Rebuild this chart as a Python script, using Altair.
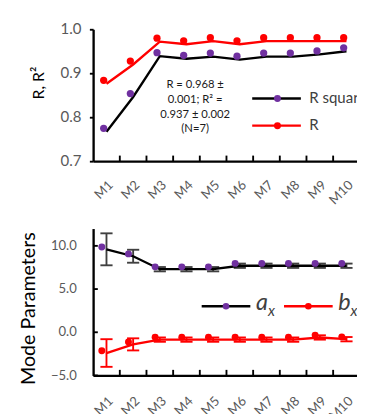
import altair as alt
import pandas as pd

# ---------------- data ----------------
cats = ["M1", "M2", "M3", "M4", "M5", "M6", "M7", "M8", "M9", "M10"]
r_vals = [0.876, 0.920, 0.972, 0.966, 0.973, 0.966, 0.973, 0.973, 0.973, 0.973]
r2_vals = [0.767, 0.846, 0.939, 0.933, 0.938, 0.931, 0.938, 0.938, 0.943, 0.950]
ax_mean = [9.6, 8.8, 7.3, 7.3, 7.3, 7.7, 7.7, 7.7, 7.7, 7.7]
ax_err = [1.85, 0.75, 0.25, 0.25, 0.25, 0.25, 0.25, 0.25, 0.25, 0.25]
bx_mean = [-2.4, -1.4, -0.85, -0.85, -0.85, -0.85, -0.85, -0.85, -0.6, -0.8]
bx_err = [1.6, 0.7, 0.25, 0.25, 0.25, 0.25, 0.25, 0.25, 0.25, 0.25]
top_ticks = [0.7, 0.8, 0.9, 1.0]
bottom_ticks = [-5.0, 0.0, 5.0, 10.0]
annotation = ["R = 0.968 \u00b1", "0.001; R\u00b2 =", "0.937 \u00b1 0.002", "(N=7)"]

FONT = "Lato"
W = 285
H1 = 141
H2 = 157
PURPLE = "#7030A0"
RED = "#FF0000"
GRAY = "#595959"

xscale = alt.Scale(type="band", domain=cats, paddingInner=0, paddingOuter=0)


def make_xaxis(pad):
    return alt.Axis(title=None, labelAngle=-45, labelFontSize=14, labelColor=GRAY,
                    ticks=False, tickSize=0, labelPadding=pad, domainColor="black",
                    domainWidth=2.5, grid=False)


xaxis_top = make_xaxis(18)
xaxis_bot = make_xaxis(20)


def Xt(**kw):
    return alt.X("model:N", sort=cats, scale=xscale, axis=xaxis_top, **kw)


def Xb(**kw):
    return alt.X("model:N", sort=cats, scale=xscale, axis=xaxis_bot, **kw)


# ---------------- top panel ----------------
df_top = pd.DataFrame({
    "model": cats * 2,
    "value": r_vals + r2_vals,
    "series": ["R"] * len(cats) + ["R square"] * len(cats),
})
yscale_top = alt.Scale(domain=[0.7, 1.0], nice=False, zero=False)
yaxis_top = alt.Axis(values=top_ticks, format=".1f", title="R, R\u00b2", titleX=-58, titleY=57,
                     titleBaseline="middle", titleFontSize=17, titleFontWeight="normal",
                     titleColor="black", labelFontSize=16, labelColor=GRAY, tickSize=4,
                     tickWidth=2, tickColor="black", domainColor="black", domainWidth=2.5,
                     grid=False, labelPadding=9)
Ytop = alt.Y("value:Q", scale=yscale_top, axis=yaxis_top)

base_top = alt.Chart(df_top)
line_top = base_top.mark_line(strokeWidth=2.5).encode(
    x=Xt(), y=Ytop,
    stroke=alt.Stroke("series:N", scale=alt.Scale(domain=["R", "R square"], range=[RED, "black"]), legend=None),
)
pts_top = base_top.mark_circle(size=60, opacity=1, xOffset=-3, yOffset=-3.7).encode(
    x=Xt(), y=Ytop,
    fill=alt.Fill("series:N", scale=alt.Scale(domain=["R", "R square"], range=[RED, PURPLE]), legend=None),
)
ticks_top = alt.Chart(pd.DataFrame({"model": cats})).mark_rule(strokeWidth=2, color="black").encode(
    x=Xt(bandPosition=1), y=alt.value(H1 - 6), y2=alt.value(H1)
)
annot = alt.Chart(pd.DataFrame({"a": [0]})).mark_text(
    font=FONT, fontSize=12, lineHeight=15.7, align="center", baseline="middle", color="#1a1a1a"
).encode(x=alt.value(109), y=alt.value(59), text=alt.value(annotation))

leg_top = []
for name, ly, lc, dc in [("R square", 74, "black", PURPLE), ("R", 103, RED, RED)]:
    one = alt.Chart(pd.DataFrame({"s": [name]}))
    leg_top.append(one.mark_rule(strokeWidth=2.5, color=lc).encode(
        x=alt.value(170), x2=alt.value(222), y=alt.value(ly)))
    leg_top.append(one.mark_circle(size=55, opacity=1, color=dc).encode(
        x=alt.value(197), y=alt.value(ly)))
    leg_top.append(one.mark_text(font=FONT, fontSize=16, align="left", baseline="middle",
                                 color="#404040", clip=True).encode(
        x=alt.value(231), y=alt.value(ly), text="s:N"))

top = alt.layer(line_top, pts_top, ticks_top, annot, *leg_top).properties(width=W, height=H1)

# ---------------- bottom panel ----------------
df_bot = pd.DataFrame({
    "model": cats * 2,
    "mean": ax_mean + bx_mean,
    "lo": [m - e for m, e in zip(ax_mean, ax_err)] + [m - e for m, e in zip(bx_mean, bx_err)],
    "hi": [m + e for m, e in zip(ax_mean, ax_err)] + [m + e for m, e in zip(bx_mean, bx_err)],
    "series": ["a"] * len(cats) + ["b"] * len(cats),
})
yscale_bot = alt.Scale(domain=[-5, 12], nice=False, zero=False)
yaxis_bot = alt.Axis(values=bottom_ticks, format=".1f", title="Mode Parameters", titleX=-69,
                     titleY=85, titleBaseline="middle", titleFontSize=21,
                     titleFontWeight="normal", titleColor="black", labelFontSize=14,
                     labelColor=GRAY, ticks=False, tickSize=0, domainColor="black",
                     domainWidth=2.5, grid=False, labelPadding=18)
Ybot = alt.Y("mean:Q", scale=yscale_bot, axis=yaxis_bot)
err_color = alt.Color("series:N", scale=alt.Scale(domain=["a", "b"], range=["#404040", RED]), legend=None)

base_bot = alt.Chart(df_bot)
err_rule = base_bot.mark_rule(strokeWidth=2).encode(
    x=Xb(), y=alt.Y("lo:Q", scale=yscale_bot, axis=yaxis_bot), y2="hi:Q", color=err_color)
cap_lo = base_bot.mark_tick(size=13, thickness=2, opacity=1).encode(
    x=Xb(), y=alt.Y("lo:Q", scale=yscale_bot, axis=yaxis_bot), color=err_color)
cap_hi = base_bot.mark_tick(size=13, thickness=2, opacity=1).encode(
    x=Xb(), y=alt.Y("hi:Q", scale=yscale_bot, axis=yaxis_bot), color=err_color)
line_bot = base_bot.mark_line(strokeWidth=2.5).encode(
    x=Xb(), y=Ybot,
    stroke=alt.Stroke("series:N", scale=alt.Scale(domain=["a", "b"], range=["black", RED]), legend=None),
)
pts_bot = base_bot.mark_circle(size=55, opacity=1, xOffset=-5, yOffset=-2.5).encode(
    x=Xb(), y=Ybot,
    fill=alt.Fill("series:N", scale=alt.Scale(domain=["a", "b"], range=[PURPLE, RED]), legend=None),
)
ticks_bot = alt.Chart(pd.DataFrame({"model": cats})).mark_rule(strokeWidth=2, color="black").encode(
    x=Xb(bandPosition=1), y=alt.value(H2 - 6), y2=alt.value(H2)
)
yticks_bot = alt.Chart(pd.DataFrame({"mean": bottom_ticks})).mark_rule(strokeWidth=2, color="black").encode(
    y=Ybot, x=alt.value(0), x2=alt.value(5)
)

leg_bot = []
for sym, x0, lc, dc in [("a", 116, "black", PURPLE), ("b", 204, RED, RED)]:
    one = alt.Chart(pd.DataFrame({"s": [sym], "sub": ["x"]}))
    leg_bot.append(one.mark_rule(strokeWidth=2.5, color=lc).encode(
        x=alt.value(x0), x2=alt.value(x0 + 52), y=alt.value(83)))
    leg_bot.append(one.mark_circle(size=50, opacity=1, color=dc).encode(
        x=alt.value(x0 + 26), y=alt.value(83)))
    leg_bot.append(one.mark_text(font=FONT, fontSize=25, fontStyle="italic", align="left",
                                 baseline="alphabetic", color="#404040", clip=True).encode(
        x=alt.value(x0 + 58), y=alt.value(87), text="s:N"))
    leg_bot.append(one.mark_text(font=FONT, fontSize=16, fontStyle="italic", align="left",
                                 baseline="alphabetic", color="#404040", clip=True).encode(
        x=alt.value(x0 + 71), y=alt.value(93), text="sub:N"))

bottom = alt.layer(err_rule, cap_lo, cap_hi, line_bot, pts_bot, ticks_bot, yticks_bot,
                   *leg_bot).properties(width=W, height=H2)

chart = alt.vconcat(top, bottom, spacing=23).resolve_scale(
    color="independent", fill="independent", stroke="independent"
).properties(
    padding={"left": 10, "top": 0, "right": -4, "bottom": 0}
).configure_view(stroke=None).configure_axis(labelFont=FONT, titleFont=FONT)

chart.save("out.html", embed_options={"renderer": "svg", "actions": False})
